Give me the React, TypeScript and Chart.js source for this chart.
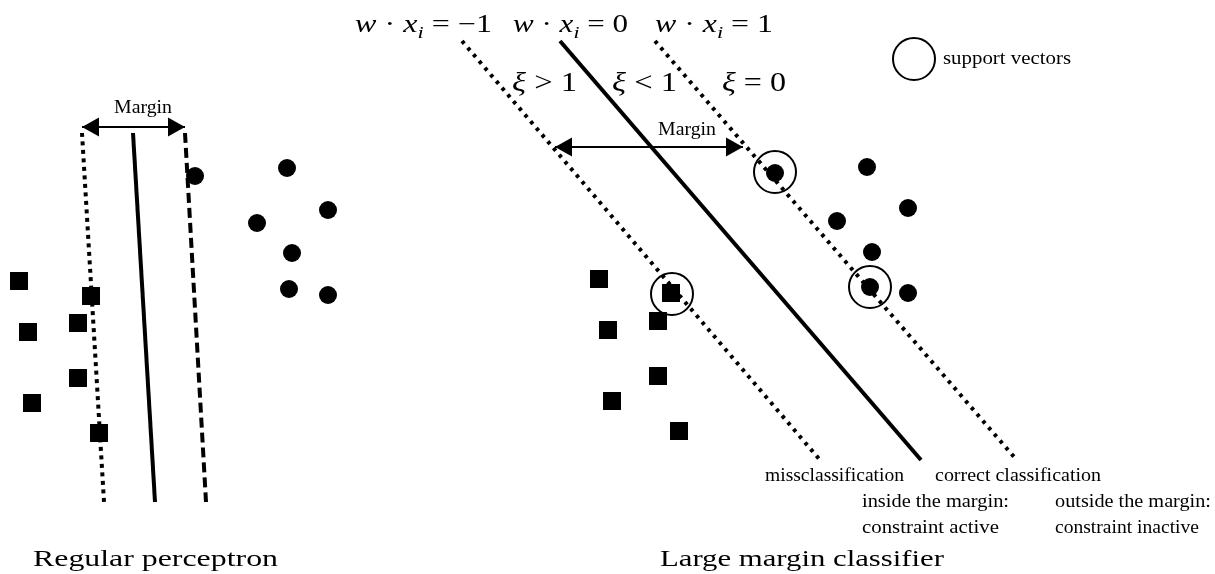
import React, { useEffect, useRef } from "react";
import { Chart, registerables } from "chart.js";

Chart.register(...registerables);

const W = 1215;
const H = 574;

// ---------- Left panel: regular perceptron ----------
const leftCircles = [
  { x: 195, y: 176 }, { x: 287, y: 168 }, { x: 328, y: 210 }, { x: 257, y: 223 },
  { x: 292, y: 253 }, { x: 289, y: 289 }, { x: 328, y: 295 },
];
const leftSquares = [
  { x: 19, y: 281 }, { x: 91, y: 296 }, { x: 78, y: 323 }, { x: 28, y: 332 },
  { x: 78, y: 378 }, { x: 32, y: 403 }, { x: 99, y: 433 },
];
const leftDotted = [{ x: 82, y: 133 }, { x: 104, y: 502 }];
const leftSolid = [{ x: 133, y: 133 }, { x: 155, y: 502 }];
const leftDashed = [{ x: 185, y: 133 }, { x: 206, y: 502 }];
const leftMarginArrow = [{ x: 82, y: 127 }, { x: 185, y: 127 }];

// ---------- Right panel: large margin classifier ----------
const rightCircles = [
  { x: 775, y: 173 }, { x: 867, y: 167 }, { x: 908, y: 208 }, { x: 837, y: 221 },
  { x: 872, y: 252 }, { x: 870, y: 287 }, { x: 908, y: 293 },
];
const rightSquares = [
  { x: 599, y: 279 }, { x: 671, y: 293 }, { x: 658, y: 321 }, { x: 608, y: 330 },
  { x: 658, y: 376 }, { x: 612, y: 401 }, { x: 679, y: 431 },
];
const supportVectors = [{ x: 775, y: 172 }, { x: 870, y: 287 }, { x: 672, y: 294 }];
const legendCircle = [{ x: 914, y: 59 }];
const rightMinus = [{ x: 462, y: 41 }, { x: 820, y: 460 }];
const rightZero = [{ x: 560, y: 41 }, { x: 921, y: 460 }];
const rightPlus = [{ x: 655, y: 41 }, { x: 1015, y: 458 }];
const rightMarginArrow = [{ x: 555, y: 147 }, { x: 743, y: 147 }];

// ---------- Text ----------
const plainLabels = [
  { text: "Margin", x: 114, y: 113, size: 18, w: 58 },
  { text: "Margin", x: 658, y: 135, size: 18, w: 58 },
  { text: "support vectors", x: 943, y: 64, size: 18, w: 128 },
  { text: "missclassification", x: 765, y: 481, size: 18, w: 139 },
  { text: "correct classification", x: 935, y: 481, size: 18, w: 166 },
  { text: "inside the margin:", x: 862, y: 507, size: 18, w: 147 },
  { text: "constraint active", x: 862, y: 533, size: 18, w: 137 },
  { text: "outside the margin:", x: 1055, y: 507, size: 18, w: 156 },
  { text: "constraint inactive", x: 1055, y: 533, size: 18, w: 144 },
  { text: "Regular perceptron", x: 33, y: 566, size: 23.5, w: 245 },
  { text: "Large margin classifier", x: 660, y: 566, size: 23.5, w: 284 },
];
const hyperplaneValues = ["−1", "0", "1"];
const hyperplaneLabelPos = [
  { x: 355, y: 32, w: 137 },
  { x: 513, y: 32, w: 115 },
  { x: 655, y: 32, w: 118 },
];
const slackLabels = [
  { op: ">", val: "1", x: 512, y: 91, w: 65 },
  { op: "<", val: "1", x: 612, y: 91, w: 65 },
  { op: "=", val: "0", x: 722, y: 91, w: 64 },
];

const FONT = "'Liberation Serif', 'Times New Roman', serif";

type Part = { t: string; it?: boolean; sub?: boolean };

function drawRich(ctx: CanvasRenderingContext2D, parts: Part[], x: number, y: number, size: number, targetW: number) {
  const fontFor = (p: Part) => {
    const s = p.sub ? size * 0.7 : size;
    return `${p.it ? "italic " : ""}${s}px ${FONT}`;
  };
  let total = 0;
  const widths = parts.map((p) => {
    ctx.font = fontFor(p);
    const w = ctx.measureText(p.t).width;
    total += w;
    return w;
  });
  const sx = total > 0 ? targetW / total : 1;
  ctx.save();
  ctx.translate(x, y);
  ctx.scale(sx, 1);
  let cx = 0;
  parts.forEach((p, i) => {
    ctx.font = fontFor(p);
    ctx.fillText(p.t, cx, p.sub ? size * 0.22 : 0);
    cx += widths[i];
  });
  ctx.restore();
}

function drawHead(ctx: CanvasRenderingContext2D, tip: { x: number; y: number }, from: { x: number; y: number }) {
  const len = 17;
  const half = 9.5;
  const ang = Math.atan2(tip.y - from.y, tip.x - from.x);
  ctx.save();
  ctx.translate(tip.x, tip.y);
  ctx.rotate(ang);
  ctx.beginPath();
  ctx.moveTo(0, 0);
  ctx.lineTo(-len, -half);
  ctx.lineTo(-len, half);
  ctx.closePath();
  ctx.fill();
  ctx.restore();
}

const diagramPlugin = {
  id: "diagramText",
  afterDatasetsDraw(chart: any) {
    const ctx: CanvasRenderingContext2D = chart.ctx;
    const xs = chart.scales.x;
    const ys = chart.scales.y;
    const px = (p: { x: number; y: number }) => ({ x: xs.getPixelForValue(p.x), y: ys.getPixelForValue(p.y) });
    ctx.save();
    ctx.fillStyle = "#000";
    ctx.textBaseline = "alphabetic";
    ctx.textAlign = "left";
    for (const arr of [leftMarginArrow, rightMarginArrow]) {
      const a = px(arr[0]);
      const b = px(arr[1]);
      drawHead(ctx, a, b);
      drawHead(ctx, b, a);
    }
    for (const l of plainLabels) {
      const p = px(l);
      drawRich(ctx, [{ t: l.text }], p.x, p.y, l.size, l.w);
    }
    hyperplaneValues.forEach((v, i) => {
      const pos = hyperplaneLabelPos[i];
      const p = px(pos);
      drawRich(
        ctx,
        [{ t: "w", it: true }, { t: " · " }, { t: "x", it: true }, { t: "i", it: true, sub: true }, { t: " = " + v }],
        p.x, p.y, 25, pos.w
      );
    });
    for (const s of slackLabels) {
      const p = px(s);
      drawRich(ctx, [{ t: "ξ", it: true }, { t: ` ${s.op} ${s.val}` }], p.x, p.y, 28, s.w);
    }
    ctx.restore();
  },
};

function lineDs(data: { x: number; y: number }[], dash: number[], width: number) {
  return {
    type: "line" as const,
    data,
    showLine: true,
    borderColor: "#000",
    borderWidth: width,
    borderDash: dash,
    borderCapStyle: "butt" as const,
    pointRadius: 0,
    fill: false,
    clip: false as any,
  };
}

function pointDs(data: { x: number; y: number }[], style: string, radius: number, filled: boolean) {
  return {
    data,
    pointStyle: style,
    pointRadius: radius,
    pointHoverRadius: radius,
    pointBackgroundColor: filled ? "#000" : "rgba(0,0,0,0)",
    pointBorderColor: "#000",
    pointBorderWidth: filled ? 0 : 2,
    showLine: false,
    clip: false as any,
  };
}

export default function App() {
  const canvasRef = useRef<HTMLCanvasElement | null>(null);
  useEffect(() => {
    if (!canvasRef.current) return;
    const chart = new Chart(canvasRef.current, {
      type: "scatter",
      data: {
        datasets: [
          pointDs(leftCircles, "circle", 9, true),
          pointDs(leftSquares, "rect", 12.7, true),
          pointDs(rightCircles, "circle", 9, true),
          pointDs(rightSquares, "rect", 12.7, true),
          pointDs(supportVectors, "circle", 21, false),
          pointDs(legendCircle, "circle", 21, false),
          lineDs(leftDotted, [4, 4.5], 4),
          lineDs(leftSolid, [], 4),
          lineDs(leftDashed, [10, 5], 4),
          lineDs(leftMarginArrow, [], 2),
          lineDs(rightMinus, [3.5, 5.3], 4),
          lineDs(rightZero, [], 4),
          lineDs(rightPlus, [3.5, 5.3], 4),
          lineDs(rightMarginArrow, [], 2),
        ] as any,
      },
      options: {
        animation: false,
        responsive: true,
        maintainAspectRatio: false,
        events: [],
        layout: { padding: 0, autoPadding: false },
        scales: {
          x: { type: "linear", min: 0, max: W, display: false },
          y: { type: "linear", min: 0, max: H, reverse: true, display: false },
        },
        plugins: { legend: { display: false }, tooltip: { enabled: false } },
      },
      plugins: [diagramPlugin],
    });
    return () => chart.destroy();
  }, []);
  return (
    <div style={{ position: "absolute", left: 0, top: 0, width: W, height: H, background: "#fff" }}>
      <canvas ref={canvasRef} />
    </div>
  );
}
